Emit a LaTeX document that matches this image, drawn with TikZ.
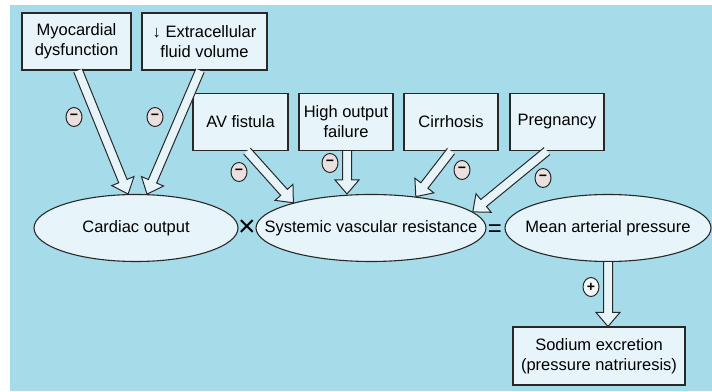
\documentclass[tikz,border=0pt]{standalone}
\usepackage{fontspec}
\setmainfont{Liberation Sans}
\usetikzlibrary{calc,shapes.geometric}
\definecolor{bgblue}{RGB}{166,220,234}
\definecolor{boxfill}{RGB}{231,245,250}
\definecolor{edgegray}{RGB}{40,40,40}
\definecolor{minusfill}{RGB}{234,224,224}
\definecolor{plusfill}{RGB}{244,246,246}

\tikzset{
  factor/.style={draw=edgegray, fill=boxfill, line width=1.1pt, align=center, inner sep=0pt, minimum height=57pt},
  quantity/.style={ellipse, draw=edgegray, fill=boxfill, line width=1.1pt, inner sep=0pt, minimum height=67pt},
  sign/.style={ellipse, draw=edgegray, fill=minusfill, line width=1pt, minimum width=16pt, minimum height=19pt, inner sep=0pt, font=\bfseries\fontsize{14}{14}\selectfont},
  fatline/.style={draw=edgegray, fill=boxfill, line width=1pt, line join=miter},
}
\newcommand{\fatarrow}[2]{%
  \path #1 coordinate (fa-tail) #2 coordinate (fa-tip) ($#2!14pt!#1$) coordinate (fa-head);
  \draw[fatline] ($(fa-tail)!4.5pt!90:(fa-tip)$) -- ($(fa-head)!4.5pt!90:(fa-tip)$)
    -- ($(fa-head)!12pt!90:(fa-tip)$) -- (fa-tip) -- ($(fa-head)!12pt!-90:(fa-tip)$)
    -- ($(fa-head)!4.5pt!-90:(fa-tip)$) -- ($(fa-tail)!4.5pt!-90:(fa-tip)$);
}

\begin{document}
\begin{tikzpicture}[x=1pt, y=1pt, font=\fontsize{16.5}{20}\selectfont]
  \useasboundingbox (0,0) rectangle (712,391);
  \fill[bgblue] (10,0) rectangle (712,386);

  \node[factor, minimum width=109pt] (myo)  at (76.5,349.5) {Myocardial\\dysfunction};
  \node[factor, minimum width=125pt] (ecf)  at (204.5,349.5) {↓ Extracellular\\fluid volume};
  \node[factor, minimum width=95pt]  (av)   at (240.5,269) {AV fistula};
  \node[factor, minimum width=94pt]  (hof)  at (346,269) {High output\\failure};
  \node[factor, minimum width=94pt]  (cir)  at (451,269) {Cirrhosis};
  \node[factor, minimum width=94pt]  (preg) at (557,269) {Pregnancy};

  \node[quantity, minimum width=204pt] (co)  at (136,163) {\makebox[0pt]{Cardiac output}};
  \node[quantity, minimum width=230pt] (svr) at (371,163) {\makebox[0pt]{Systemic vascular resistance}};
  \node[quantity, minimum width=206pt] (map) at (608,163) {\makebox[0pt]{Mean arterial pressure}};
  \node[font=\fontsize{30}{30}\selectfont] (times) at (247,163) {×};
  \node[font=\fontsize{24}{24}\selectfont] (equals) at (495,160) {=};

  \node[factor, minimum width=172pt, minimum height=58pt] (na) at (599,35) {Sodium excretion\\(pressure natriuresis)};

  \fatarrow{($(myo.south)+(1.5,0)$)}{(co.103)}
  \fatarrow{($(ecf.south)+(-4.5,0)$)}{(co.72)}
  \fatarrow{($(av.south)+(6.5,0)$)}{(svr.162)}
  \fatarrow{($(hof.south)+(1,0)$)}{($(hof.south |- svr.north)+(1,0)$)}
  \fatarrow{(cir.south)}{(svr.35)}
  \fatarrow{($(preg.south)+(-10,0)$)}{(svr.9)}
  \fatarrow{(map.south)}{(map.south |- na.north)}

  \node[sign] (m-myo)  at (74,274)  {−};
  \node[sign] (m-ecf)  at (155,274) {−};
  \node[sign] (m-av)   at (239,219) {−};
  \node[sign] (m-hof)  at (330,228) {−};
  \node[sign] (m-cir)  at (462,221) {−};
  \node[sign] (m-preg) at (543,213) {−};
  \node[sign, fill=plusfill] (p-map) at (591,104) {+};
\end{tikzpicture}
\end{document}
